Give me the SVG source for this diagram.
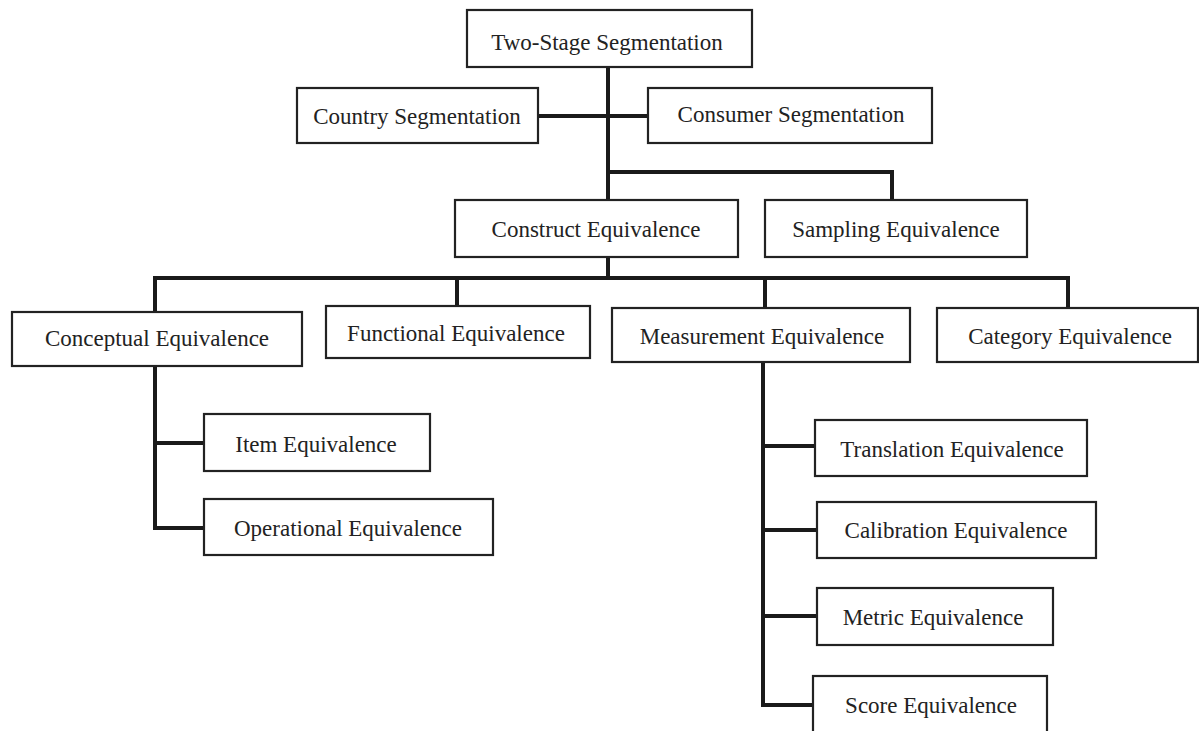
<svg xmlns="http://www.w3.org/2000/svg" width="1199" height="731" viewBox="0 0 1199 731">
<style>
.box{fill:#fff;stroke:#222;stroke-width:2.2}
.t{font-family:"Liberation Serif","Times New Roman",serif;font-size:23px;fill:#222;text-anchor:middle}
.c{fill:none;stroke:#1a1a1a;stroke-width:4;stroke-linecap:square}
</style>
<rect width="1199" height="731" fill="#fff"/>
<g id="connectors">
<path class="c" d="M608 67V278"/>
<path class="c" d="M538 116H648"/>
<path class="c" d="M608 172H892V200"/>
<path class="c" d="M155 312V278H1068V308"/>
<path class="c" d="M457 278V306"/>
<path class="c" d="M765 278V308"/>
<path class="c" d="M155 366V528H204"/>
<path class="c" d="M155 443H204"/>
<path class="c" d="M763 362V705H813"/>
<path class="c" d="M763 446H815"/>
<path class="c" d="M763 530H817"/>
<path class="c" d="M763 616H817"/>
</g>
<g id="n-two-stage"><rect class="box" x="467" y="10" width="285" height="57"/><text class="t" x="607" y="50">Two-Stage Segmentation</text></g>
<g id="n-country"><rect class="box" x="297" y="88" width="241" height="55"/><text class="t" x="417" y="124">Country Segmentation</text></g>
<g id="n-consumer"><rect class="box" x="648" y="88" width="284" height="55"/><text class="t" x="791" y="122">Consumer Segmentation</text></g>
<g id="n-construct"><rect class="box" x="455" y="200" width="283" height="57"/><text class="t" x="596" y="237">Construct Equivalence</text></g>
<g id="n-sampling"><rect class="box" x="765" y="200" width="262" height="57"/><text class="t" x="896" y="237">Sampling Equivalence</text></g>
<g id="n-conceptual"><rect class="box" x="12" y="312" width="290" height="54"/><text class="t" x="157" y="346">Conceptual Equivalence</text></g>
<g id="n-functional"><rect class="box" x="326" y="306" width="264" height="52"/><text class="t" x="456" y="341">Functional Equivalence</text></g>
<g id="n-measurement"><rect class="box" x="612" y="308" width="298" height="54"/><text class="t" x="762" y="344">Measurement Equivalence</text></g>
<g id="n-category"><rect class="box" x="937" y="308" width="261" height="54"/><text class="t" x="1070" y="344">Category Equivalence</text></g>
<g id="n-item"><rect class="box" x="204" y="414" width="226" height="57"/><text class="t" x="316" y="452">Item Equivalence</text></g>
<g id="n-operational"><rect class="box" x="204" y="499" width="289" height="56"/><text class="t" x="348" y="536">Operational Equivalence</text></g>
<g id="n-translation"><rect class="box" x="815" y="420" width="272" height="56"/><text class="t" x="952" y="457">Translation Equivalence</text></g>
<g id="n-calibration"><rect class="box" x="817" y="502" width="279" height="56"/><text class="t" x="956" y="538">Calibration Equivalence</text></g>
<g id="n-metric"><rect class="box" x="817" y="588" width="236" height="57"/><text class="t" x="933" y="625">Metric Equivalence</text></g>
<g id="n-score"><rect class="box" x="813" y="676" width="234" height="60"/><text class="t" x="931" y="713">Score Equivalence</text></g>
</svg>
